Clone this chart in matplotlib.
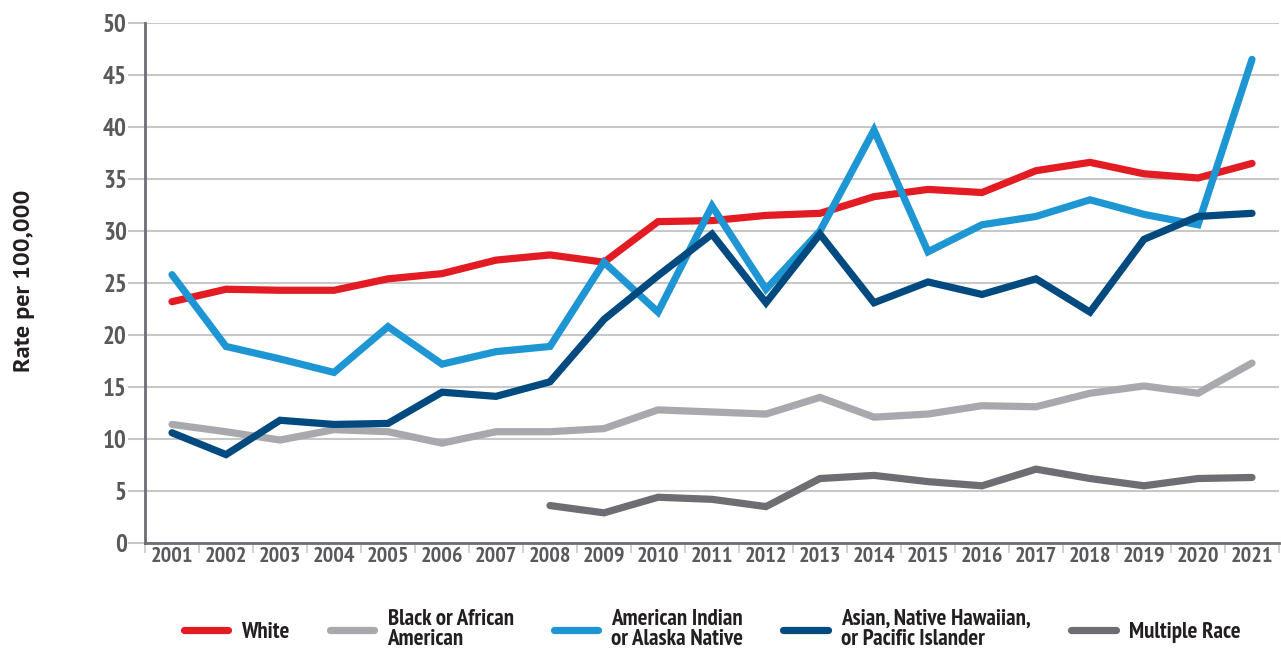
"""Rate per 100,000 by race, 2001-2021 -- line chart recreation."""
import matplotlib
matplotlib.use("Agg")
import matplotlib.pyplot as plt  # noqa: E402
import numpy as np  # noqa: E402

years = [str(y) for y in range(2001, 2022)]

white = [23.2, 24.4, 24.3, 24.3, 25.4, 25.9, 27.2, 27.7, 27.0, 30.9, 31.0,
         31.5, 31.7, 33.3, 34.0, 33.7, 35.8, 36.6, 35.5, 35.1, 36.5]
black = [11.4, 10.7, 9.9, 10.9, 10.7, 9.6, 10.7, 10.7, 11.0, 12.8, 12.6,
         12.4, 14.0, 12.1, 12.4, 13.2, 13.1, 14.4, 15.1, 14.4, 17.3]
aian = [25.8, 18.9, 17.7, 16.4, 20.8, 17.2, 18.4, 18.9, 27.0, 22.2, 32.4,
        24.4, 30.0, 39.7, 28.0, 30.6, 31.4, 33.0, 31.6, 30.6, 46.5]
asian = [10.6, 8.5, 11.8, 11.4, 11.5, 14.5, 14.1, 15.5, 21.5, 25.7, 29.7,
         23.1, 29.7, 23.1, 25.1, 23.9, 25.4, 22.2, 29.2, 31.4, 31.7]
multiple = [None] * 7 + [3.6, 2.9, 4.4, 4.2, 3.5, 6.2, 6.5, 5.9, 5.5, 7.1,
                         6.2, 5.5, 6.2, 6.3]

series = [
    ("White", white, "#E31B23"),
    ("Black or African\nAmerican", black, "#A7A9AC"),
    ("American Indian\nor Alaska Native", aian, "#1E96D4"),
    ("Asian, Native Hawaiian,\nor Pacific Islander", asian, "#004A80"),
    ("Multiple Race", multiple, "#6D6E71"),
]

COND = ["PT Sans Narrow", "Roboto Condensed", "Liberation Sans", "DejaVu Sans"]
PLAIN = ["PT Sans", "Liberation Sans", "DejaVu Sans"]
TICK_GRAY = "#58595B"

fig = plt.figure(figsize=(12.81, 6.5), dpi=100)
ax = fig.add_axes([145 / 1281, 1 - 543 / 650, 1134 / 1281, 520 / 650])

x = np.arange(len(years)) + 0.5
for label, vals, color in series:
    y = np.array([np.nan if v is None else v for v in vals], dtype=float)
    ax.plot(x, y, color=color, lw=5.2, solid_capstyle="round",
            solid_joinstyle="miter", label=label, zorder=3)

ax.set_xlim(0, len(years))
ax.set_ylim(0, 50)
ax.set_yticks(range(0, 51, 5))
ax.yaxis.grid(True, color="#C8C8CA", lw=1.5)
ax.set_axisbelow(True)

ax.set_xticks(range(len(years) + 1))
ax.set_xticklabels([])
ax.set_xticks(x, minor=True)
ax.set_xticklabels(years, minor=True, fontsize=16, fontweight="bold",
                   color=TICK_GRAY, family=COND)
ax.tick_params(axis="x", which="major", length=7, width=1.2, color="#C8C8CA",
               direction="out")
ax.tick_params(axis="x", which="minor", length=0, pad=3)
ax.tick_params(axis="y", length=12, width=1.5, color="#C8C8CA", pad=1)
for lbl in ax.get_yticklabels():
    lbl.set_fontsize(18)
    lbl.set_fontweight("bold")
    lbl.set_color(TICK_GRAY)
    lbl.set_family(COND)

for side in ("top", "right"):
    ax.spines[side].set_visible(False)
for side in ("left", "bottom"):
    ax.spines[side].set_color("#6D6E71")
    ax.spines[side].set_linewidth(2)

fig.text(25 / 1281, 1 - 281 / 650, "Rate per 100,000", rotation=90,
         ha="center", va="center", fontsize=17.5, fontweight="bold",
         color="#231F20", family=PLAIN)

leg = ax.legend(loc="center", bbox_to_anchor=(0.5, -0.167), ncol=5,
                frameon=False, handlelength=1.95, handletextpad=0.57,
                columnspacing=1.75,
                prop={"family": COND, "weight": "bold", "size": 16.5})
for t in leg.get_texts():
    t.set_linespacing(0.95)
    t.set_color("#231F20")

fig.savefig("out.png", dpi=100)
